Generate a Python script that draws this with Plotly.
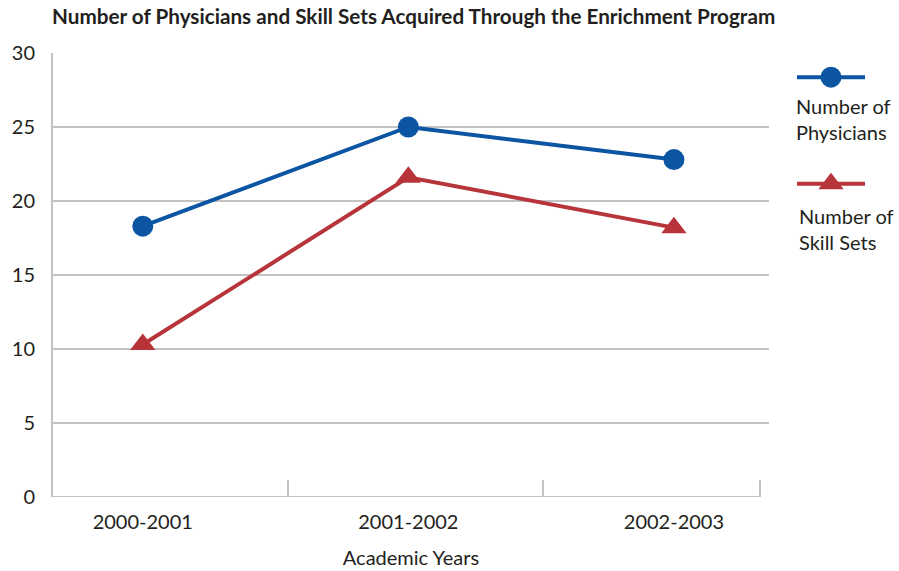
import plotly.graph_objects as go

# Chart data
years = ["2000-2001", "2001-2002", "2002-2003"]
physicians = [18.3, 25.0, 22.8]
skill_sets = [10.3, 21.6, 18.2]
y_ticks = [0, 5, 10, 15, 20, 25, 30]

BLUE = "#0b55a2"
RED = "#b7353a"
GRID = "#c3c3c3"
TEXT = "#231f20"
FONT = "Lato"

xpos = list(range(len(years)))

W, H = 899, 571
L, R, T, B = 53, 4, 53, 74
PW, PH = W - L - R, H - T - B


def fx(px):
    """pixel x -> plot-area fraction"""
    return (px - L) / PW


def fy(py):
    """pixel y -> plot-area fraction"""
    return 1 - (py - T) / PH


fig = go.Figure()

fig.add_trace(go.Scatter(
    x=xpos, y=physicians, mode="lines+markers", name="Number of Physicians",
    line=dict(color=BLUE, width=4),
    marker=dict(symbol="circle", size=21, color=BLUE),
    showlegend=False,
))
fig.add_trace(go.Scatter(
    x=xpos, y=skill_sets, mode="lines+markers", name="Number of Skill Sets",
    line=dict(color=RED, width=4),
    marker=dict(symbol="triangle-up", size=22, color=RED),
    showlegend=False,
))

# Legend samples drawn on a hidden side axis
fig.add_trace(go.Scatter(
    x=[0, 1, 2], y=[0, 0, 0], mode="lines", line=dict(color=BLUE, width=4),
    xaxis="x2", yaxis="y2", showlegend=False, hoverinfo="skip"))
fig.add_trace(go.Scatter(
    x=[1], y=[0], mode="markers", marker=dict(symbol="circle", size=21, color=BLUE),
    xaxis="x2", yaxis="y2", showlegend=False, hoverinfo="skip"))
fig.add_trace(go.Scatter(
    x=[0, 1, 2], y=[-1, -1, -1], mode="lines", line=dict(color=RED, width=4),
    xaxis="x2", yaxis="y2", showlegend=False, hoverinfo="skip"))
fig.add_trace(go.Scatter(
    x=[1], y=[-1], mode="markers", marker=dict(symbol="triangle-up", size=22, color=RED),
    xaxis="x2", yaxis="y2", showlegend=False, hoverinfo="skip"))

# x range chosen so the category points sit centred in their panels
x_lo, x_hi = -0.338, 2.358
sep_ticks = [0.548, 1.506, 2.325]

fig.update_layout(
    width=W, height=H,
    margin=dict(l=L, r=R, t=T, b=B),
    paper_bgcolor="white", plot_bgcolor="white",
    font=dict(family=FONT, size=20, color=TEXT),
    title=dict(
        text="<b>Number of Physicians and Skill Sets Acquired Through the Enrichment Program</b>",
        x=52 / W, xanchor="left", y=1 - 17 / H, yanchor="middle",
        font=dict(family=FONT, size=20.7, color=TEXT),
    ),
    xaxis=dict(
        domain=[0, fx(769)],
        range=[x_lo, x_hi], tickvals=xpos, ticktext=years,
        showgrid=False, zeroline=False, showline=False, ticks="",
        ticklabelstandoff=11,
        tickfont=dict(size=20, color=TEXT),
        title=dict(text="Academic Years", standoff=18, font=dict(size=20, color=TEXT)),
        minor=dict(tickvals=sep_ticks, ticks="inside", ticklen=17,
                   tickwidth=2, tickcolor=GRID, showgrid=False),
        fixedrange=True,
    ),
    yaxis=dict(
        range=[0, 30], tickvals=y_ticks,
        showgrid=True, gridcolor=GRID, gridwidth=2,
        zeroline=False, showline=True, linecolor=GRID, linewidth=2,
        ticks="", ticklabelstandoff=12,
        tickfont=dict(size=20, color=TEXT),
        fixedrange=True,
    ),
    xaxis2=dict(domain=[fx(797), fx(865)], anchor="y2", range=[0, 2],
                visible=False, fixedrange=True),
    yaxis2=dict(domain=[fy(186 + 11), fy(75 - 11)], anchor="x2",
                range=[-1 - 11 / 89, 11 / 89],
                visible=False, fixedrange=True),
)

# x axis baseline ending at the last separator tick
fig.add_shape(type="line", xref="x", yref="y", x0=x_lo, x1=sep_ticks[-1], y0=0, y1=0,
              line=dict(color=GRID, width=2))

legend_text = [
    ("Number of<br>Physicians", 794, 119),
    ("Number of<br>Skill Sets", 797, 229),
]
for txt, px, py in legend_text:
    fig.add_annotation(
        text=txt, xref="paper", yref="paper",
        x=fx(px), y=fy(py),
        xanchor="left", yanchor="middle", showarrow=False, align="left",
        font=dict(family=FONT, size=20, color=TEXT),
    )

fig.write_html("out.html")
